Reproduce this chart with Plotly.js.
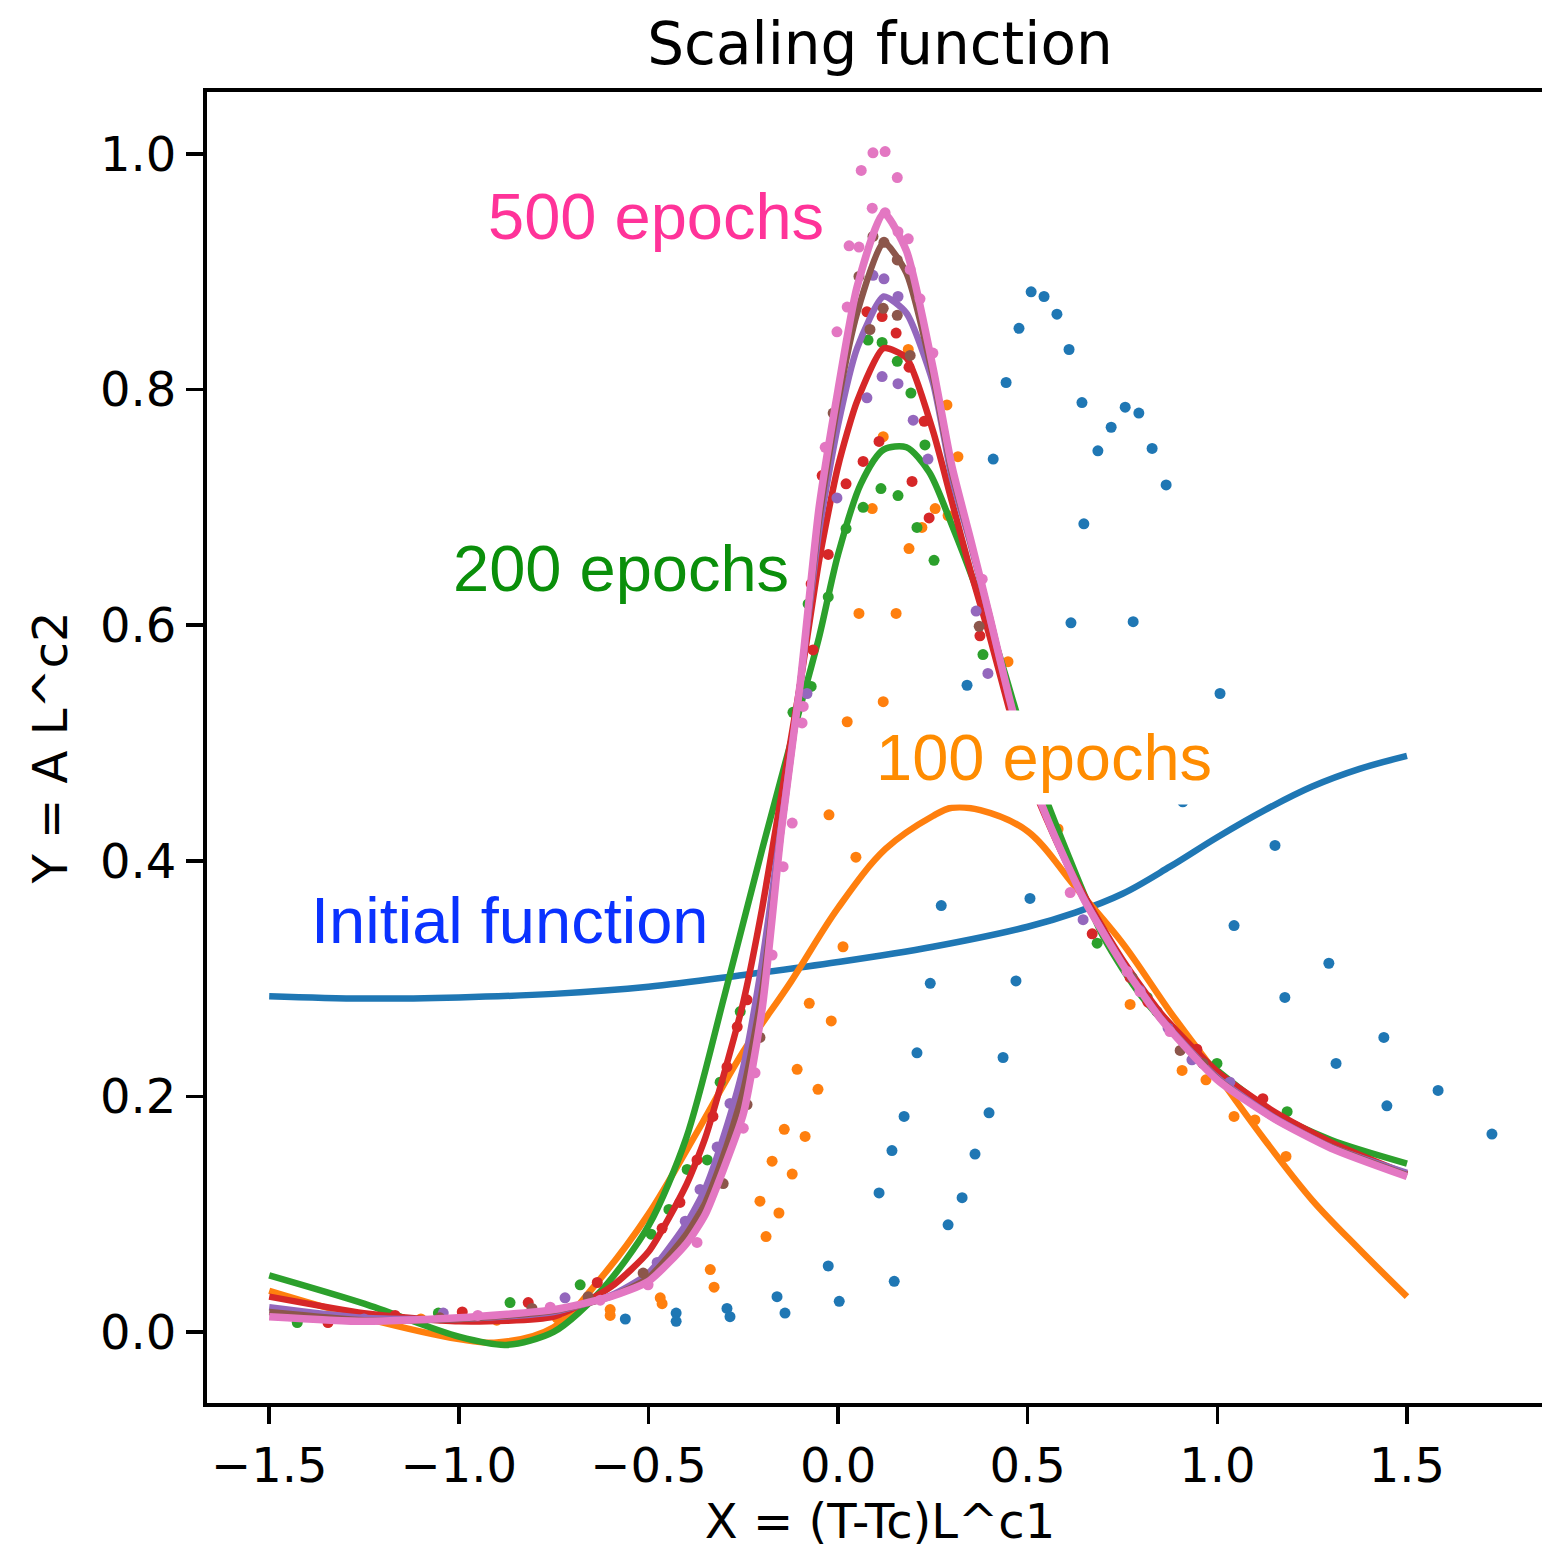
<!DOCTYPE html>
<html>
<head>
<meta charset="utf-8">
<script src="https://cdn.plot.ly/plotly-3.0.1.min.js"></script>
<style>
  html, body { margin: 0; padding: 0; overflow: hidden; background: #fff; }
  #chart { width: 1560px; height: 1550px; }
</style>
</head>
<body>
<div id="chart"></div>
<script>
// ---------- fitted scaling-function curves ----------
const initialX = [-1.5,-1.25,-1.0,-0.75,-0.5,-0.25,0,0.25,0.5,0.625,0.75,0.875,1.0,1.125,1.25,1.375,1.5];
const initialY = [0.285,0.283,0.284,0.287,0.293,0.303,0.314,0.327,0.344,0.356,0.372,0.395,0.420,0.443,0.463,0.478,0.489];

const ep100X = [-1.5,-1.25,-1.0,-0.9,-0.75,-0.625,-0.5,-0.375,-0.25,-0.125,0,0.125,0.25,0.3,0.375,0.5,0.625,0.75,0.875,1.0,1.125,1.25,1.375,1.5];
const ep100Y = [0.035,0.012,-0.006,-0.009,0.004,0.046,0.100,0.168,0.238,0.297,0.360,0.410,0.438,0.445,0.443,0.425,0.378,0.330,0.272,0.218,0.163,0.112,0.070,0.030];

const ep200X = [-1.5,-1.25,-1.0,-0.875,-0.75,-0.625,-0.5,-0.4,-0.3,-0.2,-0.1,-0.05,0,0.06,0.12,0.18,0.24,0.3,0.36,0.42,0.5,0.6,0.7,0.8,0.9,1.0,1.15,1.3,1.5];
const ep200Y = [0.048,0.024,-0.004,-0.011,0.0,0.035,0.09,0.165,0.285,0.41,0.53,0.59,0.66,0.72,0.749,0.751,0.73,0.685,0.635,0.58,0.495,0.41,0.335,0.285,0.25,0.222,0.186,0.163,0.143];

const fitX = [-1.5,-1.25,-1.0,-0.75,-0.6,-0.5,-0.4,-0.35,-0.3,-0.25,-0.2,-0.15,-0.1,-0.05,0,0.05,0.12,0.18,0.25,0.3,0.35,0.4,0.45,0.5,0.55,0.6,0.65,0.75,0.85,1.0,1.15,1.3,1.5];
const ep300Y = [0.030,0.016,0.009,0.013,0.038,0.068,0.125,0.165,0.22,0.28,0.36,0.455,0.55,0.655,0.735,0.79,0.835,0.827,0.765,0.705,0.645,0.59,0.53,0.475,0.435,0.40,0.37,0.316,0.271,0.221,0.187,0.161,0.134];
const ep400Y = [0.021,0.012,0.011,0.017,0.031,0.050,0.092,0.122,0.168,0.225,0.315,0.43,0.55,0.68,0.77,0.835,0.879,0.865,0.806,0.725,0.668,0.606,0.54,0.48,0.437,0.40,0.367,0.313,0.267,0.216,0.182,0.157,0.135];
const ep450Y = [0.017,0.010,0.011,0.018,0.030,0.046,0.083,0.110,0.152,0.205,0.29,0.425,0.55,0.69,0.79,0.865,0.925,0.899,0.812,0.73,0.67,0.607,0.54,0.48,0.437,0.40,0.366,0.312,0.266,0.215,0.181,0.157,0.133];
const ep500Y = [0.013,0.009,0.012,0.019,0.030,0.043,0.075,0.100,0.140,0.185,0.275,0.425,0.55,0.70,0.80,0.887,0.950,0.918,0.819,0.735,0.672,0.607,0.54,0.48,0.437,0.40,0.366,0.312,0.266,0.214,0.181,0.156,0.132];

// ---------- rescaled data points ----------
const dotsInitX = [0.509,0.543,0.577,0.477,0.609,0.443,0.643,0.757,0.793,0.720,0.685,0.828,0.409,0.865,0.648,0.614,0.778,0.340,1.007,0.909,1.152,0.506,0.272,1.044,1.294,1.178,0.243,0.469,1.439,1.313,0.208,0.435,1.582,1.447,0.174,0.398,1.724,0.142,0.361,0.108,0.327,0.290,-0.026,0.148,-0.161,0.003,-0.293,-0.285,-0.427,-0.427,-0.140,-0.561];
const dotsInitY = [0.883,0.879,0.864,0.852,0.834,0.806,0.789,0.785,0.780,0.768,0.748,0.750,0.741,0.719,0.686,0.602,0.603,0.549,0.542,0.450,0.413,0.368,0.362,0.345,0.313,0.284,0.296,0.298,0.250,0.228,0.237,0.233,0.205,0.192,0.183,0.186,0.168,0.154,0.151,0.118,0.114,0.091,0.056,0.043,0.030,0.026,0.020,0.013,0.016,0.009,0.016,0.011];

const dots100X = [0.119,0.090,0.221,0.256,0.290,0.316,0.287,0.187,0.055,0.153,0.448,0.119,0.024,0.185,-0.024,0.047,0.013,-0.076,-0.018,-0.108,-0.053,-0.142,-0.087,-0.174,-0.121,-0.206,-0.156,-0.190,-0.337,-0.327,-0.469,-0.464,-0.601,-0.601,-0.741,0.580,0.770,0.907,0.970,1.044,1.099,1.181,-0.90,-1.10,-1.30];
const dots100Y = [0.760,0.699,0.683,0.699,0.693,0.743,0.787,0.665,0.610,0.610,0.569,0.535,0.518,0.834,0.439,0.403,0.327,0.279,0.264,0.223,0.206,0.172,0.166,0.145,0.134,0.111,0.101,0.081,0.053,0.038,0.029,0.024,0.019,0.014,0.012,0.427,0.278,0.222,0.214,0.183,0.180,0.149,0.010,0.011,0.012];

const dots200X = [0.113,0.158,0.066,0.229,0.208,0.253,0.021,-0.026,-0.079,0.382,-0.071,-0.119,0.079,0.116,0.156,0.192,0.683,0.815,0.841,0.999,1.184,-0.398,-0.446,-0.493,-0.345,-0.311,-0.258,-0.680,-0.865,-1.054,-1.426];
const dots200Y = [0.716,0.710,0.700,0.753,0.683,0.655,0.682,0.624,0.618,0.575,0.548,0.526,0.842,0.840,0.824,0.797,0.330,0.284,0.272,0.228,0.187,0.138,0.104,0.083,0.146,0.212,0.272,0.040,0.025,0.016,0.008];

const dots300X = [0.108,0.066,0.021,0.227,0.195,0.240,0.374,-0.042,-0.026,-0.071,-0.066,0.076,0.116,0.153,0.187,0.670,0.770,0.817,0.946,1.120,-0.372,-0.417,-0.464,-0.330,-0.293,-0.266,-0.240,-0.635,-0.817,-0.991,-1.168,-1.345];
const dots300Y = [0.756,0.739,0.720,0.773,0.722,0.691,0.591,0.727,0.660,0.635,0.579,0.866,0.862,0.848,0.819,0.338,0.301,0.280,0.240,0.198,0.146,0.110,0.088,0.183,0.225,0.259,0.282,0.042,0.025,0.017,0.014,0.008];

const dots400X = [0.121,0.158,0.092,0.076,0.116,0.158,0.198,0.237,-0.003,0.395,0.364,-0.082,0.646,0.796,0.870,0.933,1.033,-0.364,-0.319,-0.403,-0.477,-0.285,-0.720,-1.041,-1.25];
const dots400Y = [0.894,0.879,0.897,0.793,0.811,0.805,0.774,0.741,0.708,0.559,0.612,0.542,0.350,0.290,0.258,0.231,0.212,0.121,0.157,0.094,0.059,0.194,0.029,0.016,0.011];

const dots450X = [0.121,0.156,0.092,0.119,0.156,0.190,0.084,0.055,-0.013,0.372,0.775,0.902,0.962,-0.206,-0.240,-0.303,-0.514,-0.659,-0.807,-1.05];
const dots450Y = [0.925,0.910,0.930,0.869,0.863,0.829,0.851,0.896,0.780,0.599,0.301,0.239,0.228,0.250,0.193,0.126,0.050,0.030,0.020,0.012];

const dots500X = [0.092,0.124,0.061,0.156,0.090,0.124,0.158,0.185,0.029,0.055,0.024,-0.003,0.190,0.216,0.250,-0.034,0.380,0.762,0.796,0.875,0.612,-0.174,-0.219,-0.250,-0.372,-0.501,-0.627,-0.121,-0.145,-0.095,-0.092,-0.759,-0.95];
const dots500Y = [1.001,1.002,0.986,0.980,0.954,0.950,0.934,0.928,0.922,0.921,0.870,0.849,0.902,0.877,0.831,0.751,0.639,0.306,0.289,0.255,0.373,0.320,0.220,0.173,0.076,0.040,0.027,0.432,0.395,0.517,0.531,0.021,0.014];

// ---------- labels ----------
const xTicks = [-1.5,-1.0,-0.5,0.0,0.5,1.0,1.5];
const yTicks = [0.0,0.2,0.4,0.6,0.8,1.0];
const labelTexts = ['500 epochs','200 epochs','100 epochs','Initial function'];

const C = ['#1f77b4','#ff7f0e','#2ca02c','#d62728','#9467bd','#8c564b','#e377c2'];

function dots(x, y, c) {
  return {x: x, y: y, type: 'scatter', mode: 'markers', marker: {color: c, size: 11}, hoverinfo: 'skip', showlegend: false};
}
function line(x, y, c, w, sm) {
  return {x: x, y: y, type: 'scatter', mode: 'lines',
          line: {color: c, width: w || 6.5, shape: 'spline', smoothing: sm === undefined ? 0.6 : sm},
          hoverinfo: 'skip', showlegend: false};
}

const traces = [
  dots(dotsInitX, dotsInitY, C[0]), line(initialX, initialY, C[0], 6.5, 1.0),
  dots(dots100X, dots100Y, C[1]), line(ep100X, ep100Y, C[1], 6.5, 1.0),
  dots(dots200X, dots200Y, C[2]), line(ep200X, ep200Y, C[2], 6.5, 0.8),
  dots(dots300X, dots300Y, C[3]), line(fitX, ep300Y, C[3]),
  dots(dots400X, dots400Y, C[4]), line(fitX, ep400Y, C[4]),
  dots(dots450X, dots450Y, C[5]), line(fitX, ep450Y, C[5]),
  dots(dots500X, dots500Y, C[6]), line(fitX, ep500Y, C[6], 7.5)
];

const tickFont = {family: 'DejaVu Sans', size: 48, color: '#000'};
const annFont = (c) => ({family: 'Liberation Sans, Arial, sans-serif', size: 65, color: c});

const layout = {
  width: 1560, height: 1550,
  margin: {l: 207, r: 7, t: 92, b: 147, pad: 0},
  paper_bgcolor: '#fff', plot_bgcolor: '#fff',
  showlegend: false,
  title: {text: 'Scaling function', font: {family: 'DejaVu Sans', size: 58, color: '#000'},
          x: 0.5, xref: 'paper', xanchor: 'center', y: 1 - 44/1550, yref: 'container', yanchor: 'middle'},
  xaxis: {
    range: [-1.664, 1.885], showgrid: false, zeroline: false,
    showline: true, mirror: true, linecolor: '#000', linewidth: 4,
    ticks: 'outside', ticklen: 17, tickwidth: 3.5, tickcolor: '#000',
    tickvals: xTicks, tickformat: '.1f', tickfont: tickFont,
    title: {text: 'X = (T-Tc)L^c1', font: {family: 'DejaVu Sans', size: 48, color: '#000'}, standoff: 14}
  },
  yaxis: {
    range: [-0.0603, 1.0526], showgrid: false, zeroline: false,
    showline: true, mirror: true, linecolor: '#000', linewidth: 4,
    ticks: 'outside', ticklen: 17, tickwidth: 3.5, tickcolor: '#000',
    tickvals: yTicks, tickformat: '.1f', tickfont: tickFont,
    title: {text: 'Y = A L^c2', font: {family: 'DejaVu Sans', size: 48, color: '#000'}, standoff: 18}
  },
  annotations: [
    {text: labelTexts[0], x: -0.928, y: 0.947, xref: 'x', yref: 'y', xanchor: 'left', yanchor: 'middle', showarrow: false, font: annFont('#ff3399')},
    {text: labelTexts[1], x: -1.021, y: 0.648, xref: 'x', yref: 'y', xanchor: 'left', yanchor: 'middle', showarrow: false, font: annFont('#0a8f0a')},
    {text: labelTexts[2], x: 0.072, y: 0.488, xref: 'x', yref: 'y', xanchor: 'left', yanchor: 'middle', showarrow: false, font: annFont('#ff8c00'), bgcolor: '#ffffff', borderpad: 10},
    {text: labelTexts[3], x: -1.395, y: 0.349, xref: 'x', yref: 'y', xanchor: 'left', yanchor: 'middle', showarrow: false, font: annFont('#0a32ff')}
  ]
};

Plotly.newPlot('chart', traces, layout, {staticPlot: true, displayModeBar: false});
</script>
</body>
</html>
